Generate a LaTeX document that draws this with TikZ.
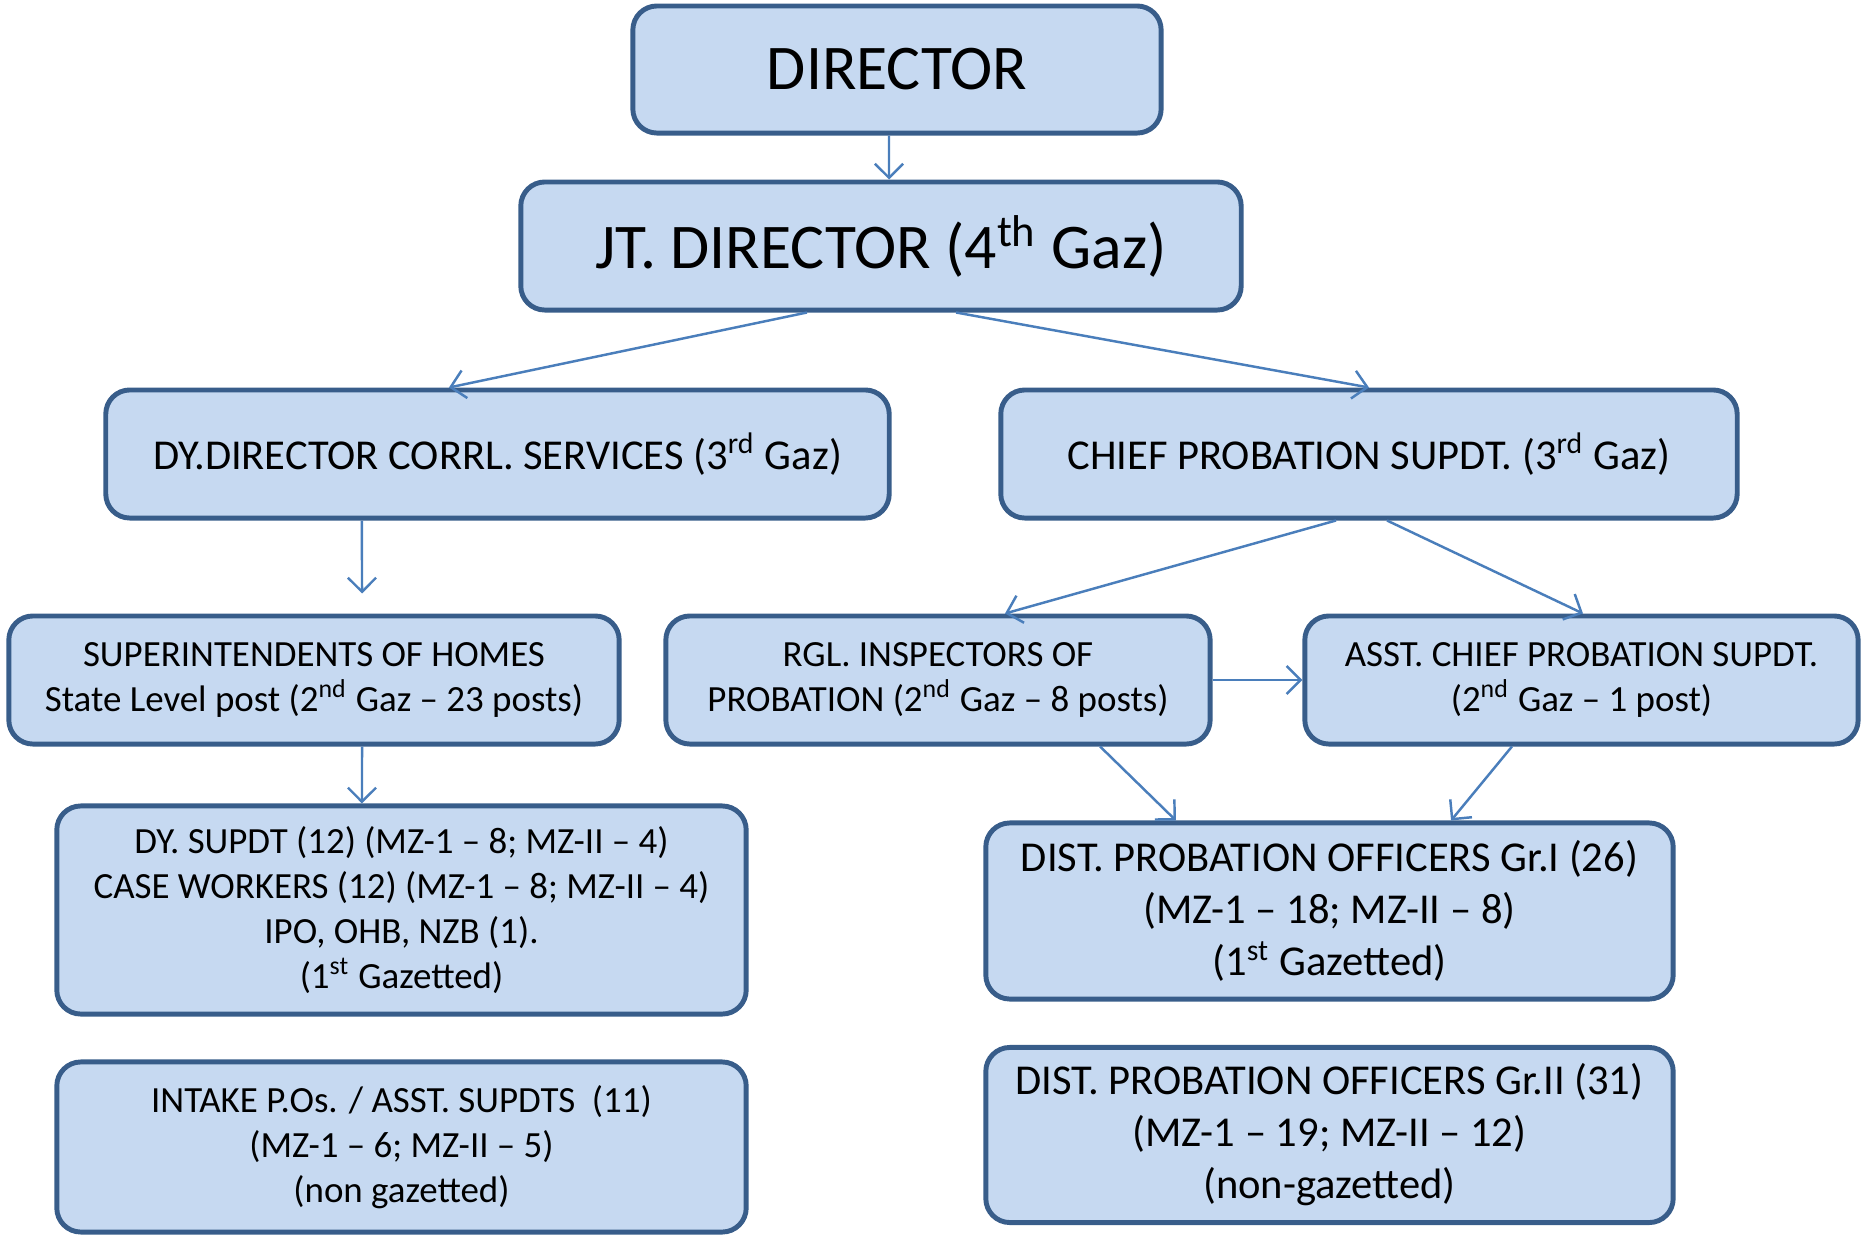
\documentclass[tikz,border=0pt]{standalone}
\usepackage{fontspec}
\setmainfont{Carlito}
\usetikzlibrary{arrows.meta,calc,positioning}
\definecolor{boxfill}{HTML}{C6D9F1}
\definecolor{boxline}{HTML}{385D8A}
\definecolor{arrline}{HTML}{4A7EBB}

\begin{document}
\begin{tikzpicture}[x=0.01cm,y=-0.01cm,
  post/.style={draw=boxline,line width=1.4pt,fill=boxfill,rounded corners=0.24cm,align=center,inner sep=0pt},
  big/.style={font=\fontsize{18.1}{22}\selectfont},
  mid/.style={font=\fontsize{12.1}{15}\selectfont},
  small/.style={font=\fontsize{10.5}{12.8}\selectfont},
  dpo/.style={font=\fontsize{12.1}{14.8}\selectfont},
  link/.style={draw=arrline,line width=0.7pt,-{Straight Barb[length=4pt,width=8pt]}}]
\useasboundingbox (0,0) rectangle (1862,1236);
% top of the chart
\node[post,big,minimum width=5.28cm,minimum height=1.27cm] (dir) at (897,69.5) {DIRECTOR};
\node[post,big,minimum width=7.2cm,minimum height=1.28cm] (jt) at (881,246) {JT. DIRECTOR (4\textsuperscript{th} Gaz)};
\node[post,mid,minimum width=7.83cm,minimum height=1.28cm] (dyd) at (497.5,454) {DY.DIRECTOR CORRL. SERVICES (3\textsuperscript{rd} Gaz)};
\node[post,mid,minimum width=7.36cm,minimum height=1.28cm] (cps) at (1369,454) {CHIEF PROBATION SUPDT. (3\textsuperscript{rd} Gaz)};
% left branch
\node[post,small,minimum width=6.1cm,minimum height=1.28cm] (soh) at (314,680) {SUPERINTENDENTS OF HOMES\\State Level post (2\textsuperscript{nd} Gaz – 23 posts)};
\node[post,small,minimum width=6.89cm,minimum height=2.08cm] (dys) at (401.5,910) {DY. SUPDT (12) (MZ-1 – 8; MZ-II – 4)\\CASE WORKERS (12) (MZ-1 – 8; MZ-II – 4)\\IPO, OHB, NZB (1).\\(1\textsuperscript{st} Gazetted)};
\node[post,small,minimum width=6.89cm,minimum height=1.7cm] (intk) at (401.5,1147) {INTAKE P.Os. / ASST. SUPDTS\ \ (11)\\(MZ-1 – 6; MZ-II – 5)\\(non gazetted)};
% right branch
\node[post,small,minimum width=5.44cm,minimum height=1.28cm] (rgl) at (938,680) {RGL. INSPECTORS OF\\PROBATION (2\textsuperscript{nd} Gaz – 8 posts)};
\node[post,small,minimum width=5.53cm,minimum height=1.28cm] (acps) at (1581.5,680) {ASST. CHIEF PROBATION SUPDT.\\(2\textsuperscript{nd} Gaz – 1 post)};
\node[post,dpo,minimum width=6.87cm,minimum height=1.76cm] (dpo1) at (1329.5,911) {DIST. PROBATION OFFICERS Gr.I (26)\\(MZ-1 – 18; MZ-II – 8)\\(1\textsuperscript{st} Gazetted)};
\node[post,dpo,minimum width=6.87cm,minimum height=1.75cm] (dpo2) at (1329.5,1135) {DIST. PROBATION OFFICERS Gr.II (31)\\(MZ-1 – 19; MZ-II – 12)\\(non-gazetted)};
% connectors
\draw[link] ([xshift=-0.08cm]dir.south) -- ([xshift=0.08cm]jt.north);
\draw[link] ([xshift=-0.74cm]jt.south) -- ([xshift=-0.485cm]dyd.north);
\draw[link] ([xshift=0.75cm]jt.south) -- (cps.north);
\draw[link] ([xshift=-1.355cm]dyd.south) -- ([xshift=0.48cm,yshift=0.2cm]soh.north);
\draw[link] ([xshift=0.48cm]soh.south) -- ([xshift=-0.395cm]dys.north);
\draw[link] ([xshift=-0.33cm]cps.south) -- ([xshift=0.67cm]rgl.north);
\draw[link] ([xshift=0.18cm]cps.south) -- ([xshift=0.015cm]acps.north);
\draw[link] (rgl.east) -- (acps.west);
\draw[link] ([xshift=1.62cm]rgl.south) -- ([xshift=-1.535cm]dpo1.north);
\draw[link] ([xshift=-0.695cm]acps.south) -- ([xshift=1.215cm]dpo1.north);
\end{tikzpicture}
\end{document}
